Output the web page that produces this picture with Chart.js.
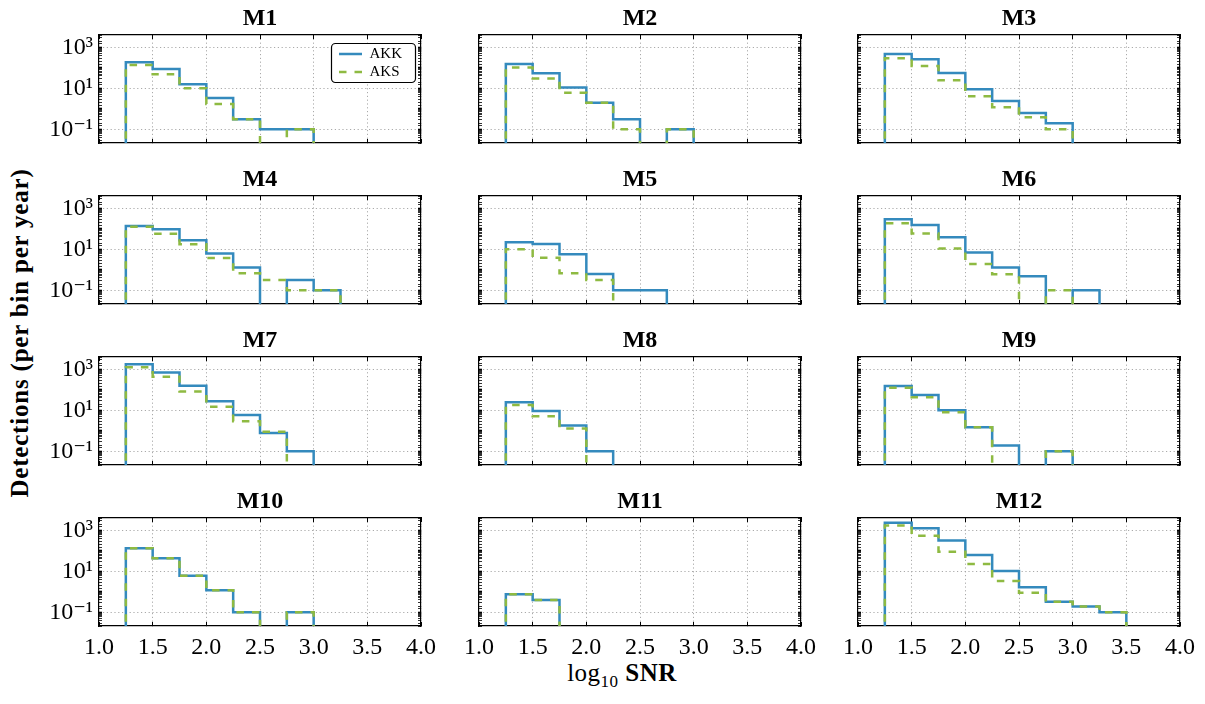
<!DOCTYPE html>
<html><head><meta charset="utf-8">
<script src="https://cdn.jsdelivr.net/npm/chart.js@4.4.1/dist/chart.umd.min.js"></script>
<style>
html,body{margin:0;padding:0;background:#fff;}
body{width:1205px;height:704px;position:relative;overflow:hidden;font-family:'Liberation Serif','DejaVu Serif',serif;color:#000;}
canvas{position:absolute;}
#ylab{position:absolute;left:20px;top:333px;transform:translate(-50%,-50%) rotate(-90deg);font-weight:bold;font-size:25px;letter-spacing:0.8px;white-space:nowrap;}
#xlab{position:absolute;left:622px;top:675px;transform:translate(-50%,-50%);font-size:25px;letter-spacing:0.5px;white-space:nowrap;}
#xlab sub{font-size:17px;}
</style></head><body>
<div id="ylab">Detections (per bin per year)</div>
<div id="xlab">log<sub>10</sub> <b>SNR</b></div>
<script>
// ---- data ----
const panelNames = ['M1','M2','M3','M4','M5','M6','M7','M8','M9','M10','M11','M12'];
const seriesNames = ['AKK','AKS'];
const binEdges = [1.25, 1.50, 1.75, 2.00, 2.25, 2.50, 2.75, 3.00, 3.25, 3.50];
const xTicks = [1.0, 1.5, 2.0, 2.5, 3.0, 3.5, 4.0];
const yTickLabels = {'-1': '10\u207B\u00B9', '1': '10\u00B9', '3': '10\u00B3'};

const akkM1  = [185, 88, 16, 3.4, 0.31, 0.1, 0.1];
const aksM1  = [137, 48, 10, 1.7, 0.31, 0, 0.1];
const akkM2  = [155, 54, 11, 2.0, 0.31, 0, 0.1];
const aksM2  = [105, 30, 6.1, 2.0, 0.1, 0, 0.1];
const akkM3  = [470, 260, 56, 8.9, 2.4, 0.63, 0.2];
const aksM3  = [290, 123, 24.5, 4.1, 1.2, 0.39, 0.1];
const akkM4  = [137, 96, 27.5, 6.3, 1.3, 0, 0.32, 0.1];
const aksM4  = [128, 58, 17.5, 3.8, 0.68, 0.32, 0.1, 0.1];
const akkM5  = [22, 18, 5.7, 0.63, 0.1, 0.1];
const aksM5  = [10, 3.9, 0.68, 0.32];
const akkM6  = [290, 154, 39, 7.1, 1.3, 0.48, 0, 0.1];
const aksM6  = [185, 60, 11, 1.9, 0.6, 0, 0.1];
const akkM7  = [1750, 710, 160, 27.5, 5.9, 0.78, 0.1];
const aksM7  = [1250, 440, 82, 15, 2.9, 0.9];
const akkM8  = [24.5, 9.3, 1.8, 0.1];
const aksM8  = [18, 5.1, 1.3];
const akkM9  = [154, 56, 10, 1.5, 0.19, 0, 0.1];
const aksM9  = [128, 43, 8, 1.5, 0, 0, 0.1];
const akkM10 = [132, 43, 6.1, 1.2, 0.1, 0, 0.1];
const aksM10 = [132, 43, 6.1, 1.2, 0.1, 0, 0.1];
const akkM11 = [0.76, 0.4];
const aksM11 = [0.76, 0.4];
const akkM12 = [2350, 1250, 315, 63, 10.5, 1.66, 0.33, 0.19, 0.1];
const aksM12 = [1700, 550, 91, 23, 3.4, 0.9, 0.33, 0.19, 0.1];

const akkSeries = [akkM1, akkM2, akkM3, akkM4, akkM5, akkM6, akkM7, akkM8, akkM9, akkM10, akkM11, akkM12];
const aksSeries = [aksM1, aksM2, aksM3, aksM4, aksM5, aksM6, aksM7, aksM8, aksM9, aksM10, aksM11, aksM12];

// ---- styling / layout ----
const FONT = "'Liberation Serif', 'DejaVu Serif', serif";
const BLUE = '#348ABD', GREEN = '#8EBA42';
const GRID = '#a0a0a0';
const YMIN = 0.0215, YMAX = 4000;
const FLOOR = 1e-6; // empty bins drop below the axis (log scale)
const L = 60, R = 22, T = 28, B = 44, PW = 322, PH = 108;
const colLeft = [99, 479, 858];
const rowTop = [35, 196, 357, 518];

Chart.defaults.font.family = FONT;
Chart.defaults.color = '#000';

function stepPoints(vals) {
  const pts = [{x: binEdges[0], y: FLOOR}];
  vals.forEach((v, i) => {
    const y = v > 0 ? v : FLOOR;
    pts.push({x: binEdges[i], y: y});
    pts.push({x: binEdges[i + 1], y: y});
  });
  pts.push({x: binEdges[vals.length], y: FLOOR});
  return pts;
}
function decadeKey(v) {
  const l = Math.log10(v);
  const r = Math.round(l);
  return Math.abs(l - r) < 1e-6 ? String(r) : null;
}

const legendPlacer = {
  id: 'legendPlacer',
  beforeDraw(chart, args, opts) {
    if (!opts || !opts.box || !chart.legend) return;
    const lg = chart.legend;
    lg.left = opts.left; lg.top = opts.top;
    lg.width = opts.box.w; lg.height = 60;
    lg.right = opts.left + opts.box.w; lg.bottom = opts.top + 60;
  },
  afterDatasetsDraw(chart, args, opts) {
    if (!opts || !opts.box || !chart.legend) return;
    const ctx = chart.ctx, b = opts.box;
    ctx.save();
    ctx.beginPath();
    ctx.roundRect(b.x + 0.5, b.y + 0.5, b.w, b.h, 4);
    ctx.fillStyle = '#fff'; ctx.fill();
    ctx.lineWidth = 1.2; ctx.strokeStyle = '#000'; ctx.stroke();
    ctx.restore();
    chart.legend.draw();
  }
};

const borderOpts = {display: true, color: '#000', width: 1.2, dash: [1.2, 2.6]};

panelNames.forEach((name, k) => {
  const row = Math.floor(k / 3), col = k % 3;
  const cv = document.createElement('canvas');
  const W = L + PW + R, H = T + PH + B;
  cv.width = W; cv.height = H;
  cv.style.width = W + 'px'; cv.style.height = H + 'px';
  const cLeft = colLeft[col] - L, cTop = rowTop[row] - T;
  cv.style.left = cLeft + 'px';
  cv.style.top = cTop + 'px';
  document.body.appendChild(cv);

  const isFirst = k === 0;
  new Chart(cv.getContext('2d'), {
    type: 'line',
    data: {
      datasets: [
        {label: seriesNames[0], data: stepPoints(akkSeries[k]), borderColor: BLUE, backgroundColor: BLUE,
         borderWidth: 2.5, pointRadius: 0, fill: false, tension: 0, order: 2, clip: 0},
        {label: seriesNames[1], data: stepPoints(aksSeries[k]), borderColor: GREEN, backgroundColor: GREEN,
         borderWidth: 2.5, borderDash: [7.5, 8], pointRadius: 0, fill: false, tension: 0, order: 1, clip: 0}
      ]
    },
    options: {
      responsive: false, animation: false, devicePixelRatio: 1,
      layout: {padding: 0, autoPadding: false},
      events: [],
      plugins: {
        title: {display: true, text: name, fullSize: false, color: '#000',
                font: {family: FONT, size: 24, weight: 'bold', lineHeight: 1},
                padding: {top: 0, bottom: 4}},
        legend: isFirst ? {
          display: true, position: 'chartArea', fullSize: false, align: 'start',
          labels: {usePointStyle: true, pointStyle: 'line', pointStyleWidth: 23, boxHeight: 15,
                   padding: 3, color: '#000', font: {family: FONT, size: 15},
                   generateLabels: ch => ch.data.datasets.map((ds, i) => ({
                     text: ds.label, fillStyle: ds.borderColor, strokeStyle: ds.borderColor,
                     lineWidth: ds.borderWidth, lineDash: ds.borderDash || [], lineCap: 'butt',
                     pointStyle: 'line', hidden: false, datasetIndex: i, fontColor: '#000'}))}
        } : {display: false},
        tooltip: {enabled: false},
        legendPlacer: isFirst ? {left: 336 - cLeft, top: 43.5 - cTop,
                                 box: {x: 331 - cLeft, y: 43 - cTop, w: 84, h: 39}} : {}
      },
      scales: {
        x: {
          type: 'linear', axis: 'x', position: 'bottom', min: 1, max: 4,
          afterBuildTicks: s => { s.ticks = xTicks.map(v => ({value: v})); },
          afterFit: s => { s.height = B; s.paddingLeft = 0; s.paddingRight = 0; s.paddingTop = 0; s.paddingBottom = 0; },
          ticks: {display: row === 3, autoSkip: false, maxRotation: 0, padding: 11, color: '#000',
                  font: {family: FONT, size: 24}, callback: v => Number(v).toFixed(1)},
          grid: {color: c => (c.tick && c.tick.value > 1.01 && c.tick.value < 3.99) ? GRID : 'rgba(0,0,0,0)',
                 lineWidth: 0.9, tickLength: -4, tickColor: '#000', tickWidth: 1},
          border: borderOpts
        },
        x2: {
          type: 'linear', axis: 'x', position: 'top', min: 1, max: 4,
          afterBuildTicks: s => { s.ticks = xTicks.map(v => ({value: v})); },
          afterFit: s => { s.height = 0; s.paddingLeft = 0; s.paddingRight = 0; s.paddingTop = 0; s.paddingBottom = 0; },
          ticks: {display: false},
          grid: {drawOnChartArea: false, tickLength: -4, tickColor: '#000', tickWidth: 1},
          border: {display: true, color: '#000', width: 1.2}
        },
        y: {
          type: 'logarithmic', axis: 'y', position: 'left', min: YMIN, max: YMAX,
          afterFit: s => { s.width = L; s.paddingTop = 0; s.paddingBottom = 0; s.paddingLeft = 0; s.paddingRight = 0; },
          ticks: {display: col === 0, autoSkip: false, padding: 9, color: '#000',
                  font: {family: FONT, size: 24},
                  callback: v => { const d = decadeKey(v); return (d !== null && yTickLabels[d]) ? yTickLabels[d] : ''; }},
          grid: {color: c => { if (!c.tick) return 'rgba(0,0,0,0)'; const d = decadeKey(c.tick.value); return (d !== null && yTickLabels[d]) ? GRID : 'rgba(0,0,0,0)'; },
                 lineWidth: 0.9, tickLength: -3, tickColor: '#000',
                 tickWidth: c => (c.tick && decadeKey(c.tick.value) !== null) ? 1.6 : 0.8},
          border: borderOpts
        },
        y2: {
          type: 'logarithmic', axis: 'y', position: 'right', min: YMIN, max: YMAX,
          afterFit: s => { s.width = R; s.paddingTop = 0; s.paddingBottom = 0; s.paddingLeft = 0; s.paddingRight = 0; },
          ticks: {display: false, autoSkip: false},
          grid: {drawOnChartArea: false, tickLength: -3, tickColor: '#000',
                 tickWidth: c => (c.tick && decadeKey(c.tick.value) !== null) ? 1.6 : 0.8},
          border: {display: true, color: '#000', width: 1.2}
        }
      }
    },
    plugins: [legendPlacer]
  });
});
</script>
</body></html>
